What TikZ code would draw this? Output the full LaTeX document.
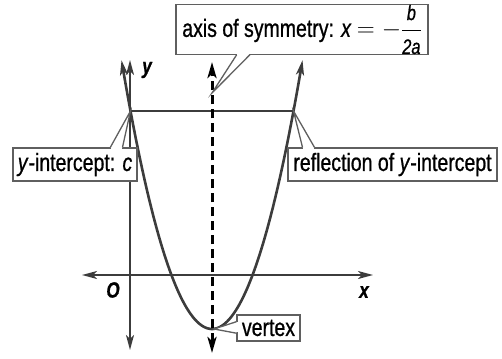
\documentclass[tikz,border=0pt]{standalone}
\usepackage{amsmath}
\usepackage{fontspec}
\setmainfont{Liberation Sans}[FakeStretch=0.78, FakeBold=0.8]
\usepackage{xcolor}
\usetikzlibrary{arrows.meta, calc}

\definecolor{curvegray}{RGB}{60,60,60}
\definecolor{boxgray}{RGB}{95,95,95}

\begin{document}
\begin{tikzpicture}[
  x=1pt, y=-1pt,
  axisline/.style={{Stealth[length=15pt, width=8pt, inset=4pt]}-{Stealth[length=15pt, width=8pt, inset=4pt]}, line width=1.6pt, draw=curvegray},
  curve/.style={line width=2.6pt, draw=curvegray},
  symline/.style={{Stealth[length=16pt, width=9pt, inset=4pt]}-{Stealth[length=16pt, width=9pt, inset=4pt]}, line width=3pt, dash pattern=on 9pt off 5pt, draw=black},
  lbl/.style={rectangle, draw=boxgray, line width=1.3pt, fill=white, inner sep=0pt,
    font=\fontsize{25}{28}\selectfont},
  ptr/.style={draw=boxgray, line width=1.3pt},
  axlbl/.style={inner sep=0pt, font=\fontsize{22}{24}\selectfont\bfseries\itshape}
]
\useasboundingbox (0,0) rectangle (502,358);

\coordinate (yint) at (130.5,111);
\coordinate (refl) at (293.5,111);
\coordinate (vtx) at (212,329);
\coordinate (ytop) at (130,60);
\coordinate (ybot) at (130,350);
\coordinate (xleft) at (82,275);
\coordinate (xright) at (373,275);
\coordinate (stop) at (212,62);
\coordinate (sbot) at (212,353);
\coordinate (stip) at (212,93);
\coordinate (vtip) at (214,329);

\draw[axisline] (ybot) -- (ytop);
\draw[axisline] (xleft) -- (xright);
\draw[curve] (yint) -- (refl);
\draw[curve, {Stealth[length=15pt, width=8pt, inset=4pt]}-{Stealth[length=15pt, width=8pt, inset=4pt]}]
  plot[domain=121.5:302.5, samples=80, smooth] (\x, {329-218*((\x-212)/81.5)^2});
\draw[symline] (sbot) -- (stop);

\node[axlbl] (ylab) at (147,70) {y};
\node[axlbl] (olab) at (113,290) {O};
\node[axlbl] (xlab) at (364,292) {x};

\node[lbl, minimum width=252, minimum height=49] (al) at (302,29.5)
  {axis of symmetry: \textit{x} $= -\dfrac{\text{\fontsize{21}{22}\selectfont\textit{b}}}{\text{\fontsize{21}{22}\selectfont\textit{2a}}}$};
\node[lbl, minimum width=124, minimum height=33] (yl) at (75,164.5) {\textit{y}-intercept: \textit{c}};
\node[lbl, minimum width=209, minimum height=33] (rl) at (392.5,164.5) {reflection of \textit{y}-intercept};
\node[lbl, minimum width=63, minimum height=26] (vl) at (268.5,328) {vertex};

\coordinate (a1) at ($(al.south west)!0.242!(al.south east)$);
\coordinate (a2) at ($(al.south west)!0.294!(al.south east)$);
\coordinate (y1) at ($(yl.north west)!0.782!(yl.north east)$);
\coordinate (y2) at ($(yl.north west)!0.879!(yl.north east)$);
\coordinate (r1) at ($(rl.north west)!0.072!(rl.north east)$);
\coordinate (r2) at ($(rl.north west)!0.129!(rl.north east)$);
\coordinate (v1) at ($(vl.north west)!0.27!(vl.south west)$);
\coordinate (v2) at ($(vl.north west)!0.69!(vl.south west)$);

\fill[white] (a1) -- (stip) -- (a2) -- cycle;
\draw[white, line width=2.4pt, shorten <=0.7pt, shorten >=0.7pt] (a1) -- (a2);
\draw[ptr] (a1) -- (stip) -- (a2);
\fill[white] (y1) -- (yint) -- (y2) -- cycle;
\draw[white, line width=2.4pt, shorten <=0.7pt, shorten >=0.7pt] (y1) -- (y2);
\draw[ptr] (y1) -- (yint) -- (y2);
\fill[white] (r1) -- (refl) -- (r2) -- cycle;
\draw[white, line width=2.4pt, shorten <=0.7pt, shorten >=0.7pt] (r1) -- (r2);
\draw[ptr] (r1) -- (refl) -- (r2);
\fill[white] (v1) -- (vtip) -- (v2) -- cycle;
\draw[white, line width=2.4pt, shorten <=0.7pt, shorten >=0.7pt] (v1) -- (v2);
\draw[ptr] (v1) -- (vtip) -- (v2);
\end{tikzpicture}
\end{document}
